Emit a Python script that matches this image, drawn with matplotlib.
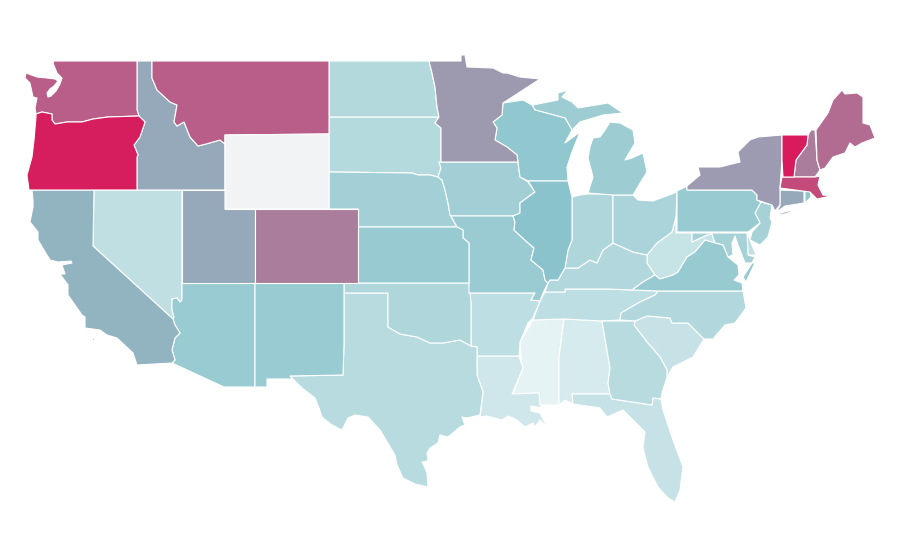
import numpy as np
import matplotlib
matplotlib.use("Agg")
import matplotlib.pyplot as plt
from matplotlib.collections import PolyCollection
from matplotlib.colors import LinearSegmentedColormap

# values read off the shading, 0-100, Wyoming has no data
states = ["MS", "AL", "LA", "FL", "WV", "NV", "SC", "TN", "AR", "TX", "GA", "DE", "SD", "ND", "NC", "KY",
          "OK", "IN", "OH", "NE", "IA", "MI", "MD", "NJ", "MO", "AZ", "NM", "KS", "VA", "PA", "WI", "RI",
          "IL", "CA", "ID", "UT", "CT", "NY", "MN", "CO", "NH", "ME", "WA", "MT", "MA", "OR", "VT", "WY"]
values = [0, 7.4, 10, 14.3, 13.9, 16.5, 14.3, 17.8, 17.8, 20, 20, 17, 21.3, 22.2, 23, 23,
          24.3, 24.3, 25.7, 29.6, 30.4, 31.7, 28, 28, 33, 33.5, 33.5, 33.9, 33.9, 33.9, 37, 38,
          40, 46, 49.6, 49.6, 49.6, 54, 54.6, 65.2, 65.2, 71, 76, 76, 82.6, 98.6, 100, np.nan]

# state outlines in picture pixels, there is no shape file to load here
outlines = {
    "WA": [[(54, 61), (137, 61), (137, 110), (139, 116), (108, 117), (93, 119), (82, 122), (67, 122), (55, 124),
            (52, 120), (52, 114), (42, 112), (36, 114), (35, 108), (37, 98), (33, 97), (30, 83), (25, 78), (26, 73),
            (37, 77), (47, 78), (55, 79), (58, 81), (54, 86), (50, 89), (47, 93), (48, 97), (51, 96), (56, 91),
            (60, 84), (62, 78), (57, 73), (53, 63)]],
    "OR": [[(36, 114), (42, 112), (52, 114), (52, 120), (55, 124), (67, 122), (82, 122), (93, 119), (108, 117),
            (139, 116), (145, 122), (140, 137), (134, 145), (138, 155), (137, 157), (137, 190), (29, 190), (27, 175),
            (32, 157), (34, 140), (36, 117)]],
    "ID": [[(137, 61), (152, 61), (152, 78), (157, 90), (170, 102), (177, 105), (174, 122), (177, 126), (184, 122),
            (190, 137), (198, 146), (206, 144), (220, 140), (225, 144), (225, 190), (137, 190), (137, 157), (138, 155),
            (134, 145), (140, 137), (145, 122), (139, 116), (137, 110)]],
    "MT": [[(152, 61), (329, 61), (329, 134), (225, 135), (225, 144), (220, 140), (206, 144), (198, 146), (190, 137),
            (184, 122), (177, 126), (174, 122), (177, 105), (170, 102), (157, 90), (152, 78)]],
    "WY": [[(225, 135), (329, 134), (329, 209), (225, 209)]],
    "ND": [[(329, 61), (429, 61), (432, 73), (435, 87), (437, 107), (439, 117), (329, 117)]],
    "SD": [[(329, 117), (439, 117), (435, 123), (441, 128), (441, 162), (439, 163), (441, 168), (438, 177), (430, 175),
            (418, 175), (412, 173), (329, 172)]],
    "NE": [[(329, 172), (412, 173), (418, 175), (430, 175), (438, 177), (442, 180), (445, 190), (448, 203), (450, 215),
            (457, 227), (358, 227), (358, 209), (329, 209)]],
    "KS": [[(358, 227), (457, 227), (463, 230), (463, 238), (469, 243), (469, 283), (358, 283)]],
    "CO": [[(255, 209), (358, 209), (358, 283), (255, 283)]],
    "UT": [[(182, 190), (225, 190), (225, 209), (255, 209), (255, 283), (182, 283)]],
    "NV": [[(94, 190), (182, 190), (182, 300), (180, 302), (177, 298), (172, 299), (172, 310), (174, 317), (173, 319),
            (93, 246)]],
    "CA": [[(32, 190), (94, 190), (93, 246), (173, 319), (175, 325), (180, 333), (175, 338), (172, 350), (175, 360),
            (172, 363), (137, 365), (133, 353), (117, 338), (107, 335), (100, 330), (85, 328), (85, 317), (82, 315),
            (68, 295), (68, 285), (60, 274), (65, 274), (62, 265), (72, 263), (71, 261), (58, 262), (50, 260),
            (38, 240), (38, 232), (30, 222), (33, 207), (33, 200)],
           [(92, 338), (94, 338), (94, 340), (92, 340)]],
    "AZ": [[(182, 283), (255, 283), (255, 387), (224, 387), (172, 363), (175, 360), (172, 350), (175, 338), (180, 333),
            (175, 325), (173, 319), (174, 317), (172, 310), (172, 299), (177, 298), (180, 302), (182, 300)]],
    "NM": [[(255, 283), (344, 283), (344, 344), (343, 375), (290, 376), (292, 379), (267, 379), (267, 387), (255, 387)]],
    "TX": [[(344, 293), (388, 293), (388, 327), (400, 334), (417, 337), (430, 343), (443, 343), (460, 340), (471, 346),
            (477, 347), (477, 375), (483, 392), (480, 415), (467, 418), (462, 417), (465, 425), (460, 427), (448, 437),
            (440, 435), (438, 443), (430, 448), (427, 453), (428, 461), (422, 462), (425, 468), (427, 473), (428, 487),
            (415, 484), (403, 478), (397, 465), (395, 455), (380, 430), (368, 417), (355, 415), (348, 418), (342, 430),
            (332, 425), (322, 417), (319, 408), (315, 398), (302, 388), (290, 376), (343, 375), (344, 344)]],
    "OK": [[(344, 283), (469, 283), (471, 303), (471, 346), (460, 340), (443, 343), (430, 343), (417, 337), (400, 334),
            (388, 327), (388, 293), (344, 293)]],
    "AR": [[(469, 293), (535, 293), (531, 300), (540, 301), (533, 318), (528, 323), (520, 342), (519, 356), (477, 356),
            (477, 347), (471, 346), (471, 303)]],
    "MO": [[(451, 216), (513, 216), (515, 222), (514, 230), (527, 242), (534, 248), (531, 260), (543, 270), (545, 280),
            (548, 283), (543, 293), (540, 301), (531, 300), (535, 293), (469, 293), (469, 243), (463, 238), (463, 230),
            (457, 227)]],
    "IA": [[(439, 162), (518, 162), (520, 177), (528, 182), (535, 192), (520, 203), (520, 213), (513, 216), (451, 216),
            (450, 215), (448, 203), (445, 190), (442, 180), (438, 177), (441, 168)]],
    "MN": [[(429, 61), (461, 61), (461, 55), (465, 55), (467, 67), (493, 68), (503, 73), (507, 73), (520, 77), (540, 79),
            (523, 90), (503, 103), (502, 115), (493, 122), (497, 128), (495, 140), (507, 147), (517, 155), (518, 162),
            (441, 162), (441, 128), (435, 123), (439, 117), (437, 107), (435, 87), (432, 73)]],
    "WI": [[(503, 103), (523, 100), (532, 105), (535, 110), (565, 118), (572, 130), (565, 143), (580, 132), (572, 152),
            (567, 167), (568, 181), (528, 181), (520, 177), (518, 162), (517, 155), (507, 147), (495, 140), (497, 128),
            (493, 122), (502, 115)]],
    "IL": [[(528, 181), (568, 181), (572, 197), (572, 240), (568, 250), (565, 268), (558, 280), (550, 280), (548, 283),
            (545, 280), (543, 270), (531, 260), (534, 248), (527, 242), (514, 230), (515, 222), (513, 216), (520, 213),
            (520, 203), (535, 192)]],
    "IN": [[(572, 197), (580, 195), (588, 194), (613, 194), (613, 243), (603, 250), (597, 263), (590, 260), (578, 268),
            (565, 268), (568, 250), (572, 240)]],
    "MI": [[(588, 193), (593, 177), (588, 158), (590, 147), (593, 138), (600, 137), (605, 130), (610, 122), (620, 123),
            (633, 130), (635, 143), (625, 160), (632, 158), (643, 153), (647, 172), (642, 180), (633, 195), (613, 195)],
           [(532, 105), (533, 105), (558, 100), (558, 93), (568, 90), (562, 97), (572, 102), (578, 108), (608, 103),
            (623, 113), (603, 115), (580, 122), (572, 130), (565, 118), (535, 110)],
           [(550, 80), (555, 78), (555, 79), (551, 81)]],
    "OH": [[(613, 195), (633, 195), (638, 200), (653, 201), (677, 192), (676, 217), (672, 232), (657, 243), (647, 255),
            (633, 252), (613, 243)]],
    "KY": [[(548, 283), (550, 280), (558, 280), (565, 268), (578, 268), (590, 260), (597, 263), (603, 250), (613, 243),
            (633, 252), (647, 255), (647, 263), (655, 275), (643, 282), (632, 290), (607, 289), (565, 289), (565, 292),
            (545, 292)]],
    "WV": [[(647, 255), (657, 243), (672, 232), (676, 217), (676, 233), (692, 233), (692, 242), (707, 235), (712, 234),
            (715, 243), (705, 240), (695, 252), (687, 257), (678, 272), (673, 275), (660, 279), (655, 275), (647, 263)]],
    "VA": [[(632, 290), (643, 282), (655, 275), (660, 279), (673, 275), (678, 272), (687, 257), (695, 252), (705, 240),
            (715, 243), (723, 245), (728, 257), (738, 265), (739, 275), (734, 280), (742, 283), (743, 291), (658, 291)],
           [(752, 263), (755, 263), (746, 282), (743, 277)]],
    "NC": [[(658, 291), (743, 291), (746, 308), (735, 323), (725, 325), (713, 339), (704, 339), (688, 323), (672, 323),
            (670, 318), (647, 316), (635, 321), (620, 320), (621, 313), (640, 302), (655, 295)]],
    "TN": [[(545, 292), (565, 292), (565, 289), (607, 289), (632, 290), (658, 291), (655, 295), (640, 302), (621, 313),
            (620, 320), (602, 321), (564, 319), (533, 320), (540, 301)]],
    "MS": [[(533, 320), (564, 319), (559, 357), (559, 405), (540, 405), (539, 393), (513, 394), (522, 370), (520, 342)]],
    "AL": [[(564, 319), (602, 321), (610, 368), (608, 383), (610, 394), (572, 394), (573, 404), (565, 400), (559, 405),
            (559, 357)]],
    "GA": [[(602, 321), (635, 321), (634, 325), (647, 342), (660, 357), (667, 370), (667, 377), (662, 393), (661, 399),
            (653, 398), (652, 405), (612, 399), (610, 394), (608, 383), (610, 368)]],
    "SC": [[(635, 321), (647, 316), (670, 318), (672, 323), (688, 323), (704, 339), (693, 357), (673, 367), (667, 377),
            (667, 370), (660, 357), (647, 342), (634, 325)]],
    "FL": [[(572, 394), (610, 394), (612, 399), (652, 405), (653, 398), (661, 399), (663, 410), (673, 440), (683, 467),
            (680, 490), (675, 502), (668, 498), (658, 487), (648, 467), (643, 448), (645, 432), (623, 410), (607, 417),
            (600, 408), (573, 404)]],
    "LA": [[(477, 356), (519, 356), (523, 368), (512, 394), (539, 393), (540, 405), (543, 408), (531, 406), (531, 411),
            (540, 413), (544, 421), (549, 429), (540, 420), (535, 427), (533, 423), (525, 427), (517, 420), (508, 416),
            (502, 420), (487, 416), (480, 417), (483, 392), (477, 375)]],
    "NY": [[(687, 186), (687, 190), (752, 190), (757, 195), (757, 200), (772, 205), (775, 211), (780, 205), (780, 188),
            (782, 160), (782, 135), (758, 137), (750, 140), (738, 152), (740, 162), (720, 167), (698, 167), (700, 175)],
           [(773, 215), (800, 208), (785, 214)]],
    "PA": [[(677, 191), (687, 186), (687, 190), (752, 190), (757, 195), (757, 200), (761, 202), (755, 213), (760, 223),
            (748, 232), (677, 232)]],
    "NJ": [[(761, 202), (772, 205), (770, 218), (772, 222), (768, 237), (760, 245), (750, 240), (752, 232), (760, 223),
            (755, 213)]],
    "DE": [[(747, 233), (750, 240), (756, 255), (748, 255)]],
    "MD": [[(692, 233), (747, 233), (748, 255), (755, 257), (752, 263), (745, 263), (738, 245), (735, 236), (732, 243),
            (733, 255), (728, 257), (723, 245), (715, 243), (712, 234), (707, 235), (692, 242)]],
    "CT": [[(780, 190), (804, 191), (804, 203), (785, 206), (777, 212), (780, 205)]],
    "RI": [[(805, 191), (810, 191), (811, 197), (805, 203)]],
    "MA": [[(782, 177), (815, 177), (820, 176), (818, 185), (823, 195), (831, 196), (817, 199), (810, 192), (780, 188)]],
    "VT": [[(782, 135), (808, 135), (807, 145), (796, 160), (794, 177), (783, 177), (782, 160)]],
    "NH": [[(811, 130), (815, 130), (817, 160), (820, 170), (815, 177), (794, 177), (796, 160), (807, 145), (808, 135)]],
    "ME": [[(816, 130), (828, 113), (833, 100), (842, 90), (845, 94), (857, 93), (863, 97), (863, 123), (870, 125),
            (875, 138), (862, 143), (855, 147), (850, 143), (845, 153), (833, 157), (825, 168), (820, 170), (817, 160)]],
}

scale = LinearSegmentedColormap.from_list("scale", [(0, "#e6f3f4"), (0.4, "#8ac3cb"), (1, "#d81b5c")])
scale.set_bad("#f2f3f5")

polys = []
shades = []
for name, val in zip(states, values):
    for ring in outlines[name]:
        polys.append(ring)
        shades.append(val)

fig = plt.figure(figsize=(9, 5.6), dpi=100)
ax = fig.add_axes([0, 0, 1, 1])
coll = PolyCollection(polys, array=np.array(shades), cmap=scale, edgecolors="white", linewidths=0.8)
coll.set_clim(0, 100)
ax.add_collection(coll)
ax.set_xlim(0, 900)
ax.set_ylim(560, 0)
ax.axis("off")
fig.savefig("out.png", dpi=100, facecolor="white")
